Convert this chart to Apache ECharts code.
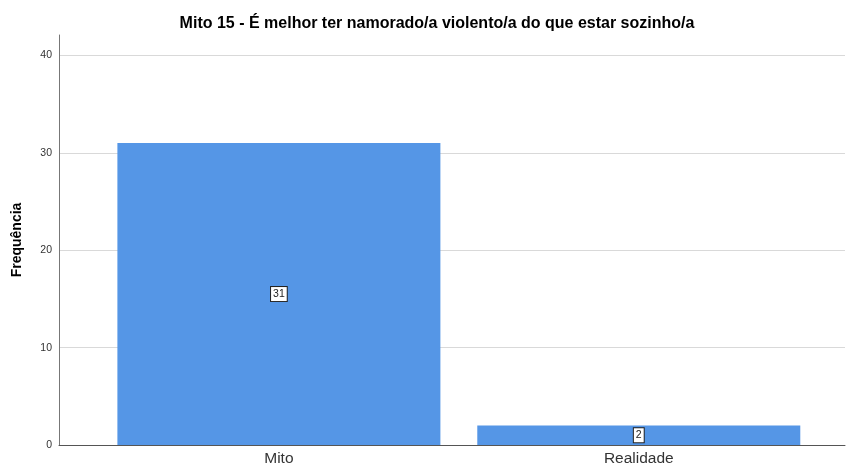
<!DOCTYPE html>
<html>
<head>
<meta charset="utf-8">
<script src="https://cdn.jsdelivr.net/npm/echarts@6/dist/echarts.min.js"></script>
<style>
  html, body { margin: 0; padding: 0; background: #fff; }
  #chart { width: 847px; height: 471px; }
</style>
</head>
<body>
<div id="chart"></div>
<script>
const titleText = 'Mito 15 - É melhor ter namorado/a violento/a do que estar sozinho/a';
const categories = ['Mito', 'Realidade'];
const frequencies = [31, 2];
const yTicks = [0, 10, 20, 30, 40];

// bars sit on a value axis so the padding on each side can be uneven, like the SPSS output
const barData = frequencies.map((v, i) => [i + 1, v]);
const catPositions = categories.map((c, i) => i + 1);

const chart = echarts.init(document.getElementById('chart'));
chart.setOption({
    animation: false,
    textStyle: { fontFamily: 'Liberation Sans, Arial, sans-serif' },
    title: {
        text: titleText,
        left: 432,
        top: 11,
        textAlign: 'center',
        textStyle: { fontSize: 16, fontWeight: 'bold', color: '#000' }
    },
    grid: { left: 59, right: 2, top: 35, bottom: 26, containLabel: false },
    xAxis: {
        type: 'value',
        min: 0.389,
        max: 2.573,
        axisLine: { show: true, lineStyle: { color: '#555', width: 1 } },
        axisTick: { show: false },
        splitLine: { show: false },
        axisLabel: {
            customValues: catPositions,
            formatter: v => categories[Math.round(v) - 1] || '',
            fontSize: 15.5,
            color: '#333',
            margin: 6
        }
    },
    yAxis: {
        type: 'value',
        min: 0,
        max: 42.1,
        name: 'Frequência',
        nameLocation: 'middle',
        nameRotate: 90,
        nameGap: 35,
        nameTextStyle: { fontSize: 14, fontWeight: 'bold', color: '#000' },
        axisLine: { show: true, lineStyle: { color: '#777', width: 1 } },
        axisTick: { show: false, customValues: yTicks },
        axisLabel: { customValues: yTicks, fontSize: 10.5, color: '#333', margin: 7 },
        splitLine: { show: true, lineStyle: { color: '#d9d9d9', width: 1 } }
    },
    series: [{
        type: 'bar',
        data: barData,
        barWidth: 323,
        itemStyle: { color: '#5596e6' },
        label: {
            show: true,
            position: 'inside',
            formatter: p => p.value[1],
            fontSize: 10.5,
            color: '#222',
            backgroundColor: '#fff',
            borderColor: '#222',
            borderWidth: 1,
            padding: [2, 2, 1, 2]
        }
    }]
});
</script>
</body>
</html>
